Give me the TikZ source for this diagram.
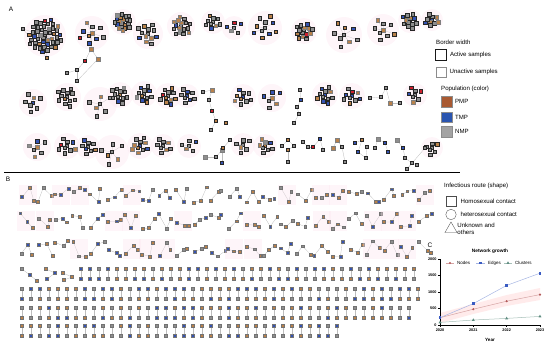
\documentclass[tikz,border=0pt]{standalone}
\usepackage{fontspec}
\setmainfont{Liberation Sans}
\usetikzlibrary{positioning,shapes.geometric,backgrounds}
\definecolor{pmpC}{HTML}{B9814A}
\definecolor{pmpL}{HTML}{A95A32}
\definecolor{tmpC}{HTML}{3553B3}
\definecolor{tmpL}{HTML}{2A55B0}
\definecolor{nmpC}{HTML}{8E8E8E}
\definecolor{nmpL}{HTML}{A3A3A3}
\definecolor{redC}{HTML}{D0202E}
\definecolor{haloC}{HTML}{FBE3EE}
\definecolor{linkC}{HTML}{BDBDBD}
\definecolor{nodeLn}{HTML}{B35A5A}
\definecolor{edgeLn}{HTML}{3A5BC2}
\definecolor{clusLn}{HTML}{5E8C80}
\tikzset{
  sample/.style={draw, rectangle, inner sep=0pt},
  link/.style={draw=linkC, line width=0.3pt},
  halo/.style={fill=haloC, fill opacity=0.35, draw=none},
  legtext/.style={font=\fontsize{6.1}{7}\selectfont, anchor=west, inner sep=0pt},
  legbox/.style={draw, minimum size=10.5, inner sep=0pt},
  panel/.style={font=\fontsize{6.5}{7}\selectfont},
  tick/.style={font=\fontsize{3.8}{4.5}\selectfont\bfseries, inner sep=0.8pt},
  ctext/.style={font=\fontsize{4.5}{5}\selectfont, anchor=west, inner sep=0pt},
  series/.style={line width=0.5pt},
  nodemark/.style={circle, fill=nodeLn, minimum size=2.4, inner sep=0pt},
  edgemark/.style={rectangle, fill=edgeLn, minimum size=2.8, inner sep=0pt},
  clusmark/.style={regular polygon, regular polygon sides=3, fill=clusLn, minimum size=3.4, inner sep=0pt},
}
% colour and border of one sample, panel A
\newcommand\pickA{%
  \pgfmathrandominteger{\rk}{1}{40}%
  \def\dc{black!85}\def\lw{0.7pt}\def\ms{3.5}%
  \ifnum\rk<24 \def\col{nmpC}%
  \else\ifnum\rk<28 \def\col{pmpC}%
  \else\ifnum\rk<34 \def\col{pmpC}\def\dc{black!50}\def\lw{0.3pt}%
  \else\ifnum\rk<39 \def\col{tmpC}%
  \else\ifnum\rk<40 \def\col{redC}%
  \else \def\col{nmpC}\def\dc{black!50}\def\lw{0.3pt}%
  \fi\fi\fi\fi\fi}
% colour of one sample, panel B
\newcommand\pickB{%
  \pgfmathrandominteger{\rk}{1}{20}%
  \def\dc{black!55}\def\lw{0.3pt}\def\ms{2.9}%
  \ifnum\rk<10 \def\col{pmpC}%
  \else\ifnum\rk<16 \def\col{tmpC}%
  \else \def\col{nmpC}%
  \fi\fi}
% star cluster nodes: name, x, y, count, radius
\newcommand\netcluster[5]{%
  \pickA
  \node[sample, fill=\col, draw=\dc, line width=\lw, minimum size=\ms] (#1-0) at (#2,#3) {};
  \foreach \i in {1,...,#4}{
    \pgfmathsetmacro\px{#2+#5*sqrt(\i/#4)*cos(\i*137.5)}
    \pgfmathsetmacro\py{#3+#5*sqrt(\i/#4)*sin(\i*137.5)}
    \pickA
    \node[sample, fill=\col, draw=\dc, line width=\lw, minimum size=\ms] (#1-\i) at (\px,\py) {};
  }
}
% chain nodes: picker, name, list x/y
\newcommand\netchain[3]{%
  \foreach \x/\y [count=\i] in {#3}{
    #1
    \node[sample, fill=\col, draw=\dc, line width=\lw, minimum size=\ms] (#2-\i) at (\x,\y) {};
  }
}
\def\clusterlist{
  n1/45/36/44/17, n2/92/33/9/13, n3/123/22/20/9, n4/148/34/12/11,
  n5/181/26/16/10, n6/213/22/9/8, n7/234/28/5/8, n8/265/28/10/13,
  n9/304/31/14/9, n10/344/35/8/14, n11/383/30/8/12, n12/410/21/12/8,
  n13/432/20/9/7,
  m1/33/103/7/10, m2/67/97/12/10, m3/100/104/6/13, m4/120/95/12/9,
  m5/144/94/11/9, m6/168/96/11/9, m7/187/96/8/8, m8/243/97/9/9,
  m9/272/98/6/10, m10/325/95/11/9, m11/352/96/9/9, m12/415/95/7/8,
  k1/37/147/6/10, k2/67/146/9/9, k3/88/147/8/8, k4/112/152/6/13,
  k5/140/146/10/9, k6/163/146/8/8, k7/189/146/5/8, k8/243/145/6/8,
  k9/265/146/8/8, k10/432/148/6/7}
\def\chainlist{t1/4, t2/2, t3/2, t4/6, t5/5, t6/5, t8/4, t9/5, t10/5,
  t11/4, t12/5, t13/4, t14/5, t15/2, t16/2, q1/3, q2/3, q3/3}
\def\pairlist{269/81/38, 289/22/45, 308/22/44, 326/22/36}

\begin{document}
\begin{tikzpicture}[x=1pt,y=-1pt]
  \useasboundingbox (0,0) rectangle (550,349);
  \pgfmathsetseed{4}

  % ---------- panel A
  \node[panel] (lblA) at (11,9) {A};
  \foreach \nm/\cx/\cy/\cn/\cr in \clusterlist
    \fill[halo] (\cx,\cy) circle ({\cr+4});
  \foreach \nm/\cx/\cy/\cn/\cr in \clusterlist
    \netcluster{\nm}{\cx}{\cy}{\cn}{\cr};

  \netchain{\pickA}{t1}{91/49, 85/61, 77/70, 67/73}
  \netchain{\pickA}{t2}{98/59, 77/81}
  \netchain{\pickA}{t3}{23/29, 47/58}
  \netchain{\pickA}{t4}{203/92, 212/90, 209/100, 212/111, 216/121, 211/130}
  \netchain{\pickA}{t5}{300/90, 301/100, 297/107, 299/114, 294/123}
  \netchain{\pickA}{t6}{370/98, 381/97, 386/88, 390/103, 400/103}
  \netchain{\pickA}{t7}{226/123}
  \netchain{\pickA}{t8}{205/157, 216/157, 222/150, 222/163}
  \netchain{\pickA}{t9}{282/146, 288/140, 294/146, 288/150, 288/162}
  \netchain{\pickA}{t10}{303/142, 308/147, 313/147, 320/139, 323/150}
  \netchain{\pickA}{t11}{333/148, 337/140, 342/147, 345/162}
  \netchain{\pickA}{t12}{355/143, 362/140, 358/152, 366/158, 367/147}
  \netchain{\pickA}{t13}{375/148, 378/139, 385/143, 388/152}
  \netchain{\pickA}{t14}{397/140, 403/148, 405/158, 412/163, 417/165}
  \netchain{\pickA}{t15}{407/169, 425/148}
  \netchain{\pickA}{t16}{223/148, 230/140}

  \draw[line width=0.9pt] (4,172) -- (460,172);

  % legend A
  \node[legtext] (bwtitle) at (436,42) {Border width};
  \node[legbox, line width=1.1pt, draw=black!90] (actbox) at (441,55) {};
  \node[legtext, right=3pt of actbox] (acttext) {Active samples};
  \node[legbox, line width=0.3pt, draw=black!45] (unabox) at (441,72) {};
  \node[legtext, right=3pt of unabox] (unatext) {Unactive samples};
  \node[legtext] (poptitle) at (441,89) {Population (color)};
  \node[legbox, line width=0.3pt, draw=black!45, fill=pmpL] (pmpbox) at (446.5,101.5) {};
  \node[legtext, right=3pt of pmpbox] (pmptext) {PMP};
  \node[legbox, line width=0.3pt, draw=black!45, fill=tmpL] (tmpbox) at (446.5,117) {};
  \node[legtext, right=3pt of tmpbox] (tmptext) {TMP};
  \node[legbox, line width=0.3pt, draw=black!45, fill=nmpL] (nmpbox) at (446.5,131.5) {};
  \node[legtext, right=3pt of nmpbox] (nmptext) {NMP};

  % ---------- panel B
  \node[panel] (lblB) at (8,179) {B};
  \foreach \row/\yy in {1/195, 2/221, 3/249}{
    \foreach \j in {0,...,23}{
      \pgfmathsetmacro\xa{20+\j*17.3+rnd*2}
      \pgfmathsetmacro\ya{\yy+(rnd-0.5)*16}
      \pgfmathsetmacro\xb{\xa+5+rnd*4}
      \pgfmathsetmacro\yb{\yy+(rnd-0.5)*16}
      \pgfmathsetmacro\xc{\xa+10+rnd*4}
      \pgfmathsetmacro\yc{\yy+(rnd-0.5)*16}
      \pgfmathrandominteger{\hh}{0}{2}
      \ifnum\hh>1 \fill[halo] (\xa-3,\yy-10) rectangle (\xa+15,\yy+10);\fi
      \pickB
      \node[sample, fill=\col, draw=\dc, line width=\lw, minimum size=\ms] (comp\row-\j-a) at (\xa,\ya) {};
      \pickB
      \node[sample, fill=\col, draw=\dc, line width=\lw, minimum size=\ms] (comp\row-\j-b) at (\xb,\yb) {};
      \pickB
      \node[sample, fill=\col, draw=\dc, line width=\lw, minimum size=\ms] (comp\row-\j-c) at (\xc,\yc) {};
    }
  }

  \netchain{\pickB}{q1}{22/269, 30/275, 37/281}
  \netchain{\pickB}{q2}{46/269, 55/273, 47/279}
  \netchain{\pickB}{q3}{63/273, 72/277, 64/280}
  \foreach \yy/\xs/\cnt [count=\r] in \pairlist{
    \foreach \j in {1,...,\cnt}{
      \pgfmathsetmacro\xx{\xs+(\j-1)*9}
      \pickB
      \node[sample, fill=\col, draw=\dc, line width=\lw, minimum size=\ms] (pair\r-\j-t) at (\xx,\yy) {};
      \pickB
      \node[sample, fill=\col, draw=\dc, line width=\lw, minimum size=\ms] (pair\r-\j-b) at (\xx,\yy+10) {};
    }
  }

  % all links, under the samples
  \begin{pgfonlayer}{background}
    \foreach \nm/\cx/\cy/\cn/\cr in \clusterlist
      \foreach \i in {1,...,\cn} \draw[link] (\nm-0) -- (\nm-\i);
    \foreach \nm/\cnt in \chainlist
      \foreach \i in {2,...,\cnt}{
        \pgfmathtruncatemacro\j{\i-1}
        \draw[link] (\nm-\j) -- (\nm-\i);
      }
    \draw[link] (n2-0) -- (t1-1);
    \draw[link] (t1-1) -- (t2-1);
    \draw[link] (t1-3) -- (t2-2);
    \draw[link] (n1-0) -- (t3-1);
    \draw[link] (n1-0) -- (t3-2);
    \draw[link] (t14-4) -- (t15-1);
    \draw[link] (t15-2) -- (k10-0);
    \foreach \row in {1,2,3}
      \foreach \j in {0,...,23}
        \draw[link] (comp\row-\j-a) -- (comp\row-\j-b) -- (comp\row-\j-c);
    \foreach \yy/\xs/\cnt [count=\r] in \pairlist
      \foreach \j in {1,...,\cnt}
        \draw[link] (pair\r-\j-t) -- (pair\r-\j-b);
  \end{pgfonlayer}

  % legend B
  \node[legtext] (routetitle) at (444,186) {Infectious route (shape)};
  \node[legbox, line width=0.35pt, draw=black!70] (homobox) at (451,201) {};
  \node[legtext, right=4pt of homobox] (homotext) {Homosexual contact};
  \node[legbox, circle, line width=0.35pt, draw=black!70] (hetebox) at (451,214.5) {};
  \node[legtext, right=4pt of hetebox] (hetetext) {heterosexual contact};
  \node[draw=black!70, line width=0.35pt, regular polygon, regular polygon sides=3,
        minimum size=14, inner sep=0pt] (unkbox) at (451,229) {};
  \node[legtext, align=left, right=2pt of unkbox] (unktext) {Unknown and\\others};

  % ---------- panel C
  \node[panel] (lblC) at (430,245) {C};
  \node[font=\fontsize{4.8}{5.5}\selectfont\bfseries] (ctitle) at (490,251) {Network growth};
  \fill[red!8] (440,313) -- (473.3,304) -- (506.7,295) -- (540,288) --
    (540,300) -- (506.7,306) -- (473.3,314) -- (440,323) -- cycle;
  \draw[line width=0.45pt] (440,259) -- (440,325) -- (540,325);
  \foreach \v [count=\i from 0] in {0,500,1000,1500,2000}{
    \draw[line width=0.4pt] (440,325-\i*16.5) -- ++(-2,0);
    \node[tick, anchor=east] (yt\i) at (437.5,325-\i*16.5) {\v};
  }
  \foreach \yr [count=\i from 0] in {2020,2021,2022,2023}{
    \draw[line width=0.4pt] (440+\i*33.33,325) -- ++(0,2);
    \node[tick, anchor=north] (xt\i) at (440+\i*33.33,327.5) {\yr};
  }
  \node[font=\fontsize{4.6}{5}\selectfont\bfseries] (xlab) at (490,339.5) {Year};

  \foreach \yy [count=\i from 0] in {317.7,309.2,301.2,294.6}
    \coordinate (nd\i) at (440+\i*33.33,\yy);
  \foreach \yy [count=\i from 0] in {317.7,303.6,285.4,273.2}
    \coordinate (ed\i) at (440+\i*33.33,\yy);
  \foreach \yy [count=\i from 0] in {322.4,320.0,318.4,316.4}
    \coordinate (cl\i) at (440+\i*33.33,\yy);
  \draw[series, nodeLn!55] (nd0) -- (nd1) -- (nd2) -- (nd3);
  \draw[series, edgeLn!45] (ed0) -- (ed1) -- (ed2) -- (ed3);
  \draw[series, clusLn!55] (cl0) -- (cl1) -- (cl2) -- (cl3);
  \foreach \i in {0,...,3}{
    \node[nodemark] (ndm\i) at (nd\i) {};
    \node[edgemark] (edm\i) at (ed\i) {};
    \node[clusmark] (clm\i) at (cl\i) {};
  }

  \coordinate (kn1) at (446,263); \coordinate (kn2) at (454,263);
  \draw[series, nodeLn!55] (kn1) -- (kn2);
  \node[nodemark] (knm) at (450,263) {};
  \node[ctext] (kntext) at (457,263) {Nodes};
  \coordinate (ke1) at (476,263); \coordinate (ke2) at (485,263);
  \draw[series, edgeLn!45] (ke1) -- (ke2);
  \node[edgemark] (kem) at (480.5,263) {};
  \node[ctext] (ketext) at (488,263) {Edges};
  \coordinate (kc1) at (504,263); \coordinate (kc2) at (512,263);
  \draw[series, clusLn!55] (kc1) -- (kc2);
  \node[clusmark] (kcm) at (508,263) {};
  \node[ctext] (kctext) at (515,263) {Clusters};
\end{tikzpicture}
\end{document}
